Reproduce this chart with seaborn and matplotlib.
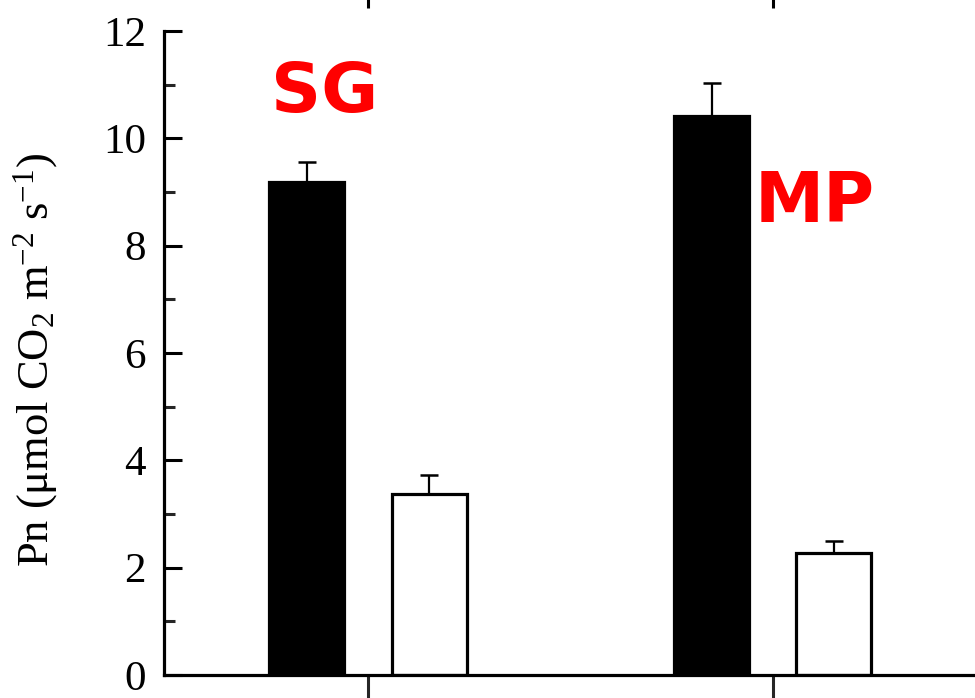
import matplotlib
matplotlib.use("Agg")
import matplotlib.pyplot as plt
from matplotlib.ticker import MultipleLocator
import seaborn as sns
import pandas as pd

# ---- data ----
groups = ["SG", "SG", "MP", "MP"]
treatments = ["Control", "Treated", "Control", "Treated"]
pn_values = [9.18, 3.38, 10.42, 2.28]
pn_errors = [0.38, 0.35, 0.62, 0.22]
group_order = ["SG", "MP"]
treatment_order = ["Control", "Treated"]
y_ticks = [0, 2, 4, 6, 8, 10, 12]

df = pd.DataFrame({"group": groups, "treatment": treatments,
                   "pn": pn_values, "err": pn_errors})

sns.set_theme(style="white")
plt.rcParams["font.family"] = ["Liberation Serif", "DejaVu Serif"]
plt.rcParams["mathtext.fontset"] = "custom"
plt.rcParams["mathtext.rm"] = "Liberation Serif"
plt.rcParams["mathtext.it"] = "Liberation Serif:italic"
plt.rcParams["mathtext.bf"] = "Liberation Serif:bold"

W, H = 975, 698
fig = plt.figure(figsize=(W / 100, H / 100), dpi=100)
fig.patch.set_facecolor("white")
left = 164 / W
bottom = (H - 675) / H
top = (H - 31) / H
ax = fig.add_axes([left, bottom, 1.0 - left, top - bottom])
ax.set_facecolor("white")

sns.barplot(data=df, x="group", y="pn", hue="treatment",
            order=group_order, hue_order=treatment_order,
            palette={"Control": "black", "Treated": "white"},
            edgecolor="black", linewidth=2.3, width=0.604, gap=0.387,
            errorbar=None, legend=False, ax=ax)

# upper error bars
for cont, trt in zip(ax.containers, treatment_order):
    for bar, grp in zip(cont, group_order):
        row = df[(df.group == grp) & (df.treatment == trt)].iloc[0]
        xc = bar.get_x() + bar.get_width() / 2
        ax.errorbar(xc, row.pn, yerr=[[0], [row.err]], fmt="none",
                    ecolor="black", elinewidth=1.6, capsize=6.5,
                    capthick=1.8, zorder=1)

ax.set_xlim(-0.504, 1.5)
ax.set_ylim(0, 12)
ax.set_yticks(y_ticks)
ax.set_yticklabels([str(t) for t in y_ticks])
ax.yaxis.set_minor_locator(MultipleLocator(1))
ax.set_xticks([0, 1])
ax.set_xticklabels([])
ax.set_xlabel("")
ax.tick_params(axis="y", which="major", direction="in", length=13, width=2.2,
               labelsize=31, pad=13, left=True, colors="black")
ax.tick_params(axis="y", which="minor", direction="in", length=8, width=2.2,
               left=True)
ax.tick_params(axis="x", which="major", direction="out", length=18, width=2.2,
               bottom=True)
for side in ["top", "right"]:
    ax.spines[side].set_visible(False)
for side in ["left", "bottom"]:
    ax.spines[side].set_visible(True)
    ax.spines[side].set_linewidth(2.3)
    ax.spines[side].set_color("black")

ax.set_ylabel("Pn (μmol CO$_{\\mathrm{2}}$ m$^{\\mathrm{-2}}$ s$^{\\mathrm{-1}}$)",
              fontsize=32, color="black")
ax.yaxis.set_label_coords(-0.128, 0.489)

# group labels
ax.text(-0.106, 10.86, "SG", color="#ff0000", fontsize=50, fontweight="bold",
        family="DejaVu Sans", ha="center", va="center")
ax.text(1.104, 8.81, "MP", color="#ff0000", fontsize=50, fontweight="bold",
        family="DejaVu Sans", ha="center", va="center")

# tick marks from the panel above (cropped)
ax2 = fig.add_axes([left, 1.0 + 2 / H, 1.0 - left, 0.05])
ax2.set_xlim(-0.504, 1.5)
ax2.set_xticks([0, 1])
ax2.set_xticklabels([])
ax2.set_yticks([])
ax2.patch.set_alpha(0)
for s in ax2.spines.values():
    s.set_visible(False)
ax2.tick_params(axis="x", direction="out", length=7.5, width=2.2, bottom=True,
                colors="black")

fig.savefig("out.png", dpi=100, facecolor="white")
